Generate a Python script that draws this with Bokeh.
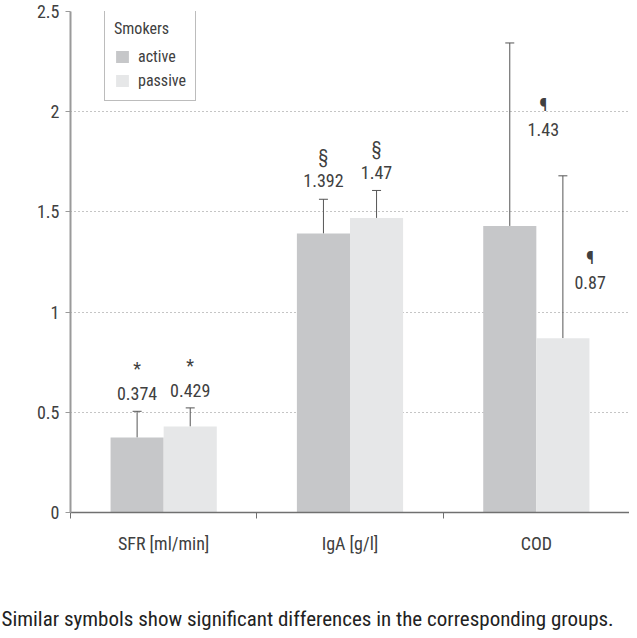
from bokeh.plotting import figure
from bokeh.models import (ColumnDataSource, Whisker, TeeHead, FixedTicker, NumeralTickFormatter,
                          Legend, LegendItem, Title, Range1d)
from bokeh.core.properties import value
from bokeh.embed import file_html
from bokeh.resources import INLINE

# ---- data ----
categories = ["SFR [ml/min]", "IgA [g/l]", "COD"]
active = [0.374, 1.392, 1.43]
passive = [0.429, 1.47, 0.87]
active_err_top = [0.505, 1.563, 2.343]
passive_err_top = [0.522, 1.607, 1.68]
active_symbols = ["*", "§", "¶"]
passive_symbols = ["*", "§", "¶"]
active_labels = ["0.374", "1.392", "1.43"]
passive_labels = ["0.429", "1.47", "0.87"]
# annotation anchors (data units) and horizontal shifts (category units)
active_label_y = [0.595, 1.657, 1.91]
passive_label_y = [0.61, 1.696, 1.146]
active_label_dx = [0.0, 0.0, 0.18]
passive_label_dx = [0.0, 0.0, 0.146]
y_ticks = [0, 0.5, 1, 1.5, 2, 2.5]
caption_text = "Similar symbols show significant differences in the corresponding groups."

FONT = "Roboto Condensed"
TXT = "#404040"
C_ACT = "#c6c7c9"
C_PAS = "#e6e7e8"

bw = 0.285
n = len(categories)
centers = [i + 0.5 for i in range(n)]
xa = [c - bw / 2 for c in centers]
xp = [c + bw / 2 for c in centers]

src_a = ColumnDataSource(dict(x=xa, top=active, upper=active_err_top,
                              lx=[x + d for x, d in zip(xa, active_label_dx)],
                              ly=active_label_y, sym=active_symbols, lab=active_labels))
src_p = ColumnDataSource(dict(x=xp, top=passive, upper=passive_err_top,
                              lx=[x + d for x, d in zip(xp, passive_label_dx)],
                              ly=passive_label_y, sym=passive_symbols, lab=passive_labels))

p = figure(width=629, height=630, output_backend="svg", toolbar_location=None,
           x_range=Range1d(0, n), y_range=Range1d(0, 2.5),
           min_border_left=70, min_border_right=0, min_border_top=11, min_border_bottom=0)
p.outline_line_color = None
p.background_fill_color = "white"
p.border_fill_color = "white"

ra = p.vbar(x="x", top="top", width=bw, source=src_a, fill_color=C_ACT, line_color=None)
rp = p.vbar(x="x", top="top", width=bw, source=src_p, fill_color=C_PAS, line_color=None)

for src in (src_a, src_p):
    w = Whisker(source=src, base="x", upper="upper", lower="top", dimension="height",
                line_color="#555555", line_width=1,
                upper_head=TeeHead(size=9, line_color="#555555", line_width=1), lower_head=None)
    p.add_layout(w)
    p.text(x="lx", y="ly", text="lab", source=src, text_align="center", text_baseline="middle",
           text_font=value(FONT), text_font_size="18px", text_color=TXT)
    p.text(x="lx", y="ly", text="sym", source=src, text_align="center", text_baseline="middle",
           y_offset=-25, text_font=value(FONT), text_font_size="18px", text_color=TXT)

# grid
p.xgrid.grid_line_color = None
p.ygrid.grid_line_color = "#8a8a8a"
p.ygrid.grid_line_dash = "1 3"
p.ygrid.grid_line_width = 1

# y axis
p.yaxis.ticker = FixedTicker(ticks=y_ticks)
p.yaxis.formatter = NumeralTickFormatter(format="0.[0]")
p.yaxis.axis_line_color = "#9a9a9a"
p.yaxis.axis_line_width = 2
p.yaxis.major_tick_line_color = "#9a9a9a"
p.yaxis.major_tick_out = 5
p.yaxis.major_tick_in = 0
p.yaxis.minor_tick_line_color = None
p.yaxis.major_label_text_font = FONT
p.yaxis.major_label_text_font_size = "18px"
p.yaxis.major_label_text_color = TXT
p.yaxis.major_label_standoff = 6

# x axis
p.xaxis.ticker = FixedTicker(ticks=centers, minor_ticks=list(range(n + 1)))
p.xaxis.major_label_overrides = {c: lab for c, lab in zip(centers, categories)}
p.xaxis.axis_line_color = "#707070"
p.xaxis.axis_line_width = 1.5
p.xaxis.major_tick_line_color = None
p.xaxis.major_tick_out = 0
p.xaxis.major_tick_in = 0
p.xaxis.minor_tick_line_color = "#707070"
p.xaxis.minor_tick_out = 6
p.xaxis.minor_tick_in = 0
p.xaxis.major_label_text_font = FONT
p.xaxis.major_label_text_font_size = "18px"
p.xaxis.major_label_text_color = TXT
p.xaxis.major_label_standoff = 14

# legend
legend = Legend(items=[LegendItem(label="active", renderers=[ra]),
                       LegendItem(label="passive", renderers=[rp])],
                location=(34, 411), title="Smokers",
                title_text_font=FONT, title_text_font_size="16px", title_text_font_style="normal",
                title_text_color=TXT, title_standoff=7,
                label_text_font=FONT, label_text_font_size="16px", label_text_color=TXT,
                glyph_width=16, glyph_height=15, label_height=22, spacing=2, label_standoff=8,
                padding=9, margin=0, border_line_color="#7a7a7a", border_line_width=1,
                background_fill_color="white", background_fill_alpha=1)
p.add_layout(legend, "center")

# spacer between axis and caption, then the caption as the outermost bottom panel
spacer = Title(text=" ", standoff=23, text_font=FONT, text_font_size="19px")
p.add_layout(spacer, "below")
caption = Title(text=caption_text, align="left", offset=-69, standoff=0, vertical_align="bottom",
                text_font=FONT, text_font_size="21px", text_font_style="normal",
                text_color="#222222")
p.add_layout(caption, "below")

open("out.html", "w").write(file_html(p, INLINE))
